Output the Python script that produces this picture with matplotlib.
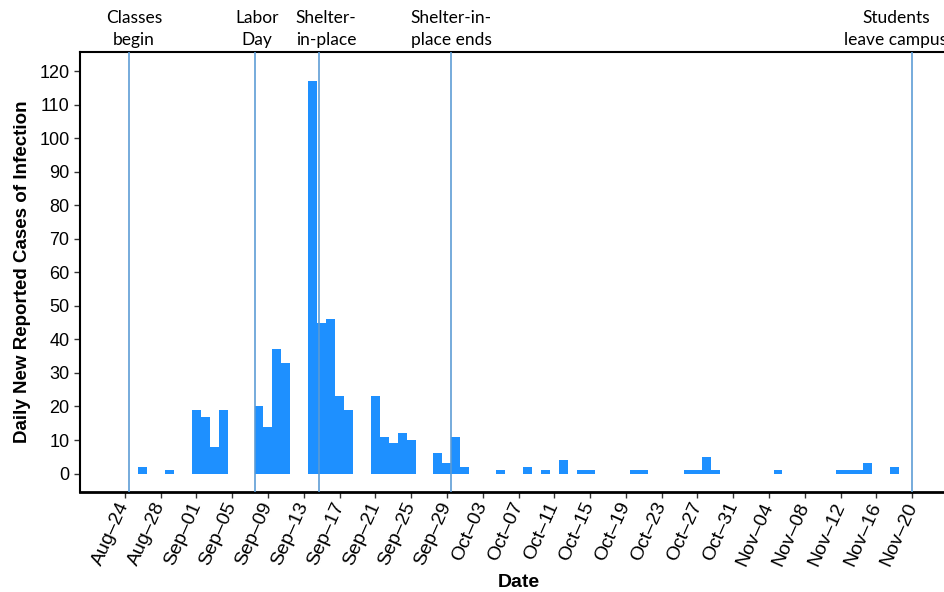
import numpy as np
import pandas as pd
import matplotlib
matplotlib.use("Agg")
import matplotlib.pyplot as plt
import matplotlib.transforms as mtransforms

# daily new cases (days without a bar are zero)
dates = ["2020-08-26", "2020-08-29", "2020-09-01", "2020-09-02", "2020-09-03",
         "2020-09-04", "2020-09-08", "2020-09-09", "2020-09-10", "2020-09-11",
         "2020-09-14", "2020-09-15", "2020-09-16", "2020-09-17", "2020-09-18",
         "2020-09-21", "2020-09-22", "2020-09-23", "2020-09-24", "2020-09-25",
         "2020-09-28", "2020-09-29", "2020-09-30", "2020-10-01", "2020-10-05",
         "2020-10-08", "2020-10-10", "2020-10-12", "2020-10-14", "2020-10-15",
         "2020-10-20", "2020-10-21", "2020-10-26", "2020-10-27", "2020-10-28",
         "2020-10-29", "2020-11-05", "2020-11-12", "2020-11-13", "2020-11-14",
         "2020-11-15", "2020-11-18"]
cases = [2, 1, 19, 17, 8,
         19, 20, 14, 37, 33,
         117, 45, 46, 23, 19,
         23, 11, 9, 12, 10,
         6, 3, 11, 2, 1,
         2, 1, 4, 1, 1,
         1, 1, 1, 1, 5,
         1, 1, 1, 1, 1,
         3, 2]

# event markers
event_times = ["2020-08-24 12:00", "2020-09-07 14:00", "2020-09-14 16:00",
               "2020-09-29 11:00", "2020-11-20 00:00"]
event_labels = ["Classes\nbegin", "Labor\nDay", "Shelter-\nin-place",
                "Shelter-in-\nplace ends", "Students\nleave campus"]
label_x_px = [134, 257, 326, 451, 896]

x = pd.to_datetime(dates)
ev = pd.to_datetime(event_times)

plt.rcParams['font.family'] = ['Liberation Sans', 'DejaVu Sans']

W, H = 945, 592
fig = plt.figure(figsize=(W / 100, H / 100), dpi=100)
ax = fig.add_axes([80 / W, (H - 492) / H, 877 / W, 440 / H])

ax.bar(x, cases, width=1.0, color='#1E90FF', align='center', linewidth=0)
for t in ev:
    ax.axvline(t, color='#5B9BD5', lw=1.3, alpha=0.9, zorder=3)

start = pd.Timestamp("2020-08-24")
ax.set_xlim(start - pd.Timedelta(days=5), start + pd.Timedelta(days=93))
ax.set_ylim(-5.5, 125.7)

ticks = pd.date_range("2020-08-24", "2020-11-20", freq="4D")
ax.set_xticks(ticks)
ax.set_xticklabels([t.strftime("%b\u2013%d") for t in ticks], rotation=66,
                   ha='right', va='center', rotation_mode='anchor',
                   fontsize=14)
shift = mtransforms.ScaledTranslation(15 / 100, -6 / 100, fig.dpi_scale_trans)
for lbl in ax.get_xticklabels():
    lbl.set_transform(lbl.get_transform() + shift)
ax.set_yticks(np.arange(0, 121, 10))
ax.tick_params(axis='y', labelsize=13, length=4, width=1, color='#333333')
ax.tick_params(axis='x', length=4, width=1, color='#333333', pad=4)

for s in ['left', 'top']:
    ax.spines[s].set_linewidth(1.5)
ax.spines['bottom'].set_linewidth(2)
ax.spines['right'].set_visible(False)

ax.set_xlabel("Date", fontsize=14, fontweight='bold', labelpad=4)
ax.set_ylabel("Daily New Reported Cases of Infection", fontsize=13.5,
              fontweight='bold', labelpad=6)

for lab, px in zip(event_labels, label_x_px):
    fig.text(px / W, 1 - 29 / H, lab, ha='center', va='center',
             fontsize=12.5, family=['Lato', 'DejaVu Sans'], linespacing=1.5)

fig.savefig("out.png", dpi=100)
